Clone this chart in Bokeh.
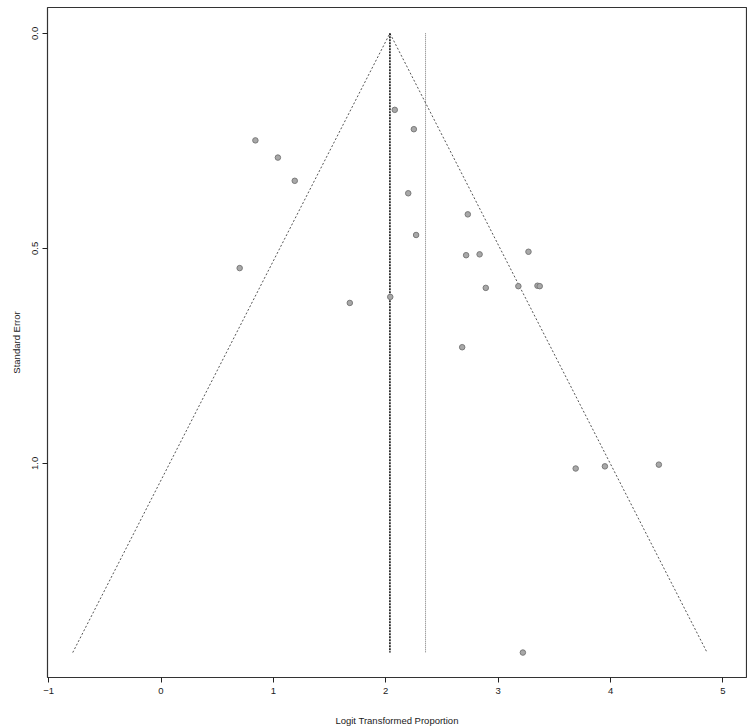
from bokeh.plotting import figure
from bokeh.models import Range1d, FixedTicker, PrintfTickFormatter, ColumnDataSource
from bokeh.embed import file_html
from bokeh.resources import INLINE

# study estimates (logit transformed proportion) and standard errors
logit_prop = [2.08, 2.25, 0.84, 1.04, 1.19, 2.20, 2.73, 2.27, 0.70, 2.715, 2.835, 3.27,
              2.89, 3.18, 3.35, 3.37, 1.68, 2.04, 2.68, 3.69, 3.95, 4.43, 3.22]
std_err = [0.178, 0.223, 0.249, 0.289, 0.343, 0.372, 0.421, 0.469, 0.546, 0.516, 0.514, 0.508,
           0.592, 0.588, 0.587, 0.588, 0.627, 0.613, 0.730, 1.012, 1.007, 1.003, 1.44]

fixed_est = 2.037     # pooled (fixed effect) estimate, funnel centre
random_est = 2.354    # second pooled estimate
se_max = 1.44
z = 1.96

x_ticks = [-1, 0, 1, 2, 3, 4, 5]
y_ticks = [0.0, 0.5, 1.0]

p = figure(frame_width=699, frame_height=670, output_backend="svg", toolbar_location=None,
           x_range=Range1d(-1.01, 5.21), y_range=Range1d(1.498, -0.06),
           min_border_left=47, min_border_top=7, min_border_right=1, min_border_bottom=44)
p.grid.visible = False
p.background_fill_color = "white"
p.border_fill_color = "white"
p.outline_line_color = "#333333"
p.outline_line_width = 1.2

# funnel
p.line([fixed_est - z * se_max, fixed_est, fixed_est + z * se_max], [se_max, 0, se_max],
       line_color="#555555", line_width=1, line_dash="2 2")
# pooled estimates
p.line([fixed_est, fixed_est], [0, se_max], line_color="black", line_width=1.5, line_dash="2 1")
p.line([random_est, random_est], [0, se_max], line_color="#777777", line_width=1, line_dash="1 1")

src = ColumnDataSource(dict(x=logit_prop, y=std_err))
p.scatter("x", "y", source=src, size=5.5, fill_color="#a8a8a8", line_color="#7a7a7a", line_width=1)

for ax in (p.xaxis[0], p.yaxis[0]):
    ax.axis_line_color = None
    ax.major_tick_line_color = "#222222"
    ax.major_tick_out = 5
    ax.major_tick_in = 0
    ax.minor_tick_line_color = None
    ax.major_label_text_font = "Liberation Sans"
    ax.major_label_text_font_size = "9.5px"
    ax.major_label_text_color = "#1a1a1a"
    ax.axis_label_text_font = "Liberation Sans"
    ax.axis_label_text_font_size = "9.5px"
    ax.axis_label_text_font_style = "normal"
    ax.axis_label_text_color = "#1a1a1a"

p.xaxis.ticker = FixedTicker(ticks=x_ticks)
p.yaxis.ticker = FixedTicker(ticks=y_ticks)
p.yaxis.formatter = PrintfTickFormatter(format="%.1f")
p.yaxis.major_label_orientation = "vertical"
p.xaxis.axis_label = "Logit Transformed Proportion"
p.yaxis.axis_label = "Standard Error"
p.xaxis.major_label_standoff = 5
p.xaxis.axis_label_standoff = 18
p.yaxis.major_label_standoff = 4
p.yaxis.axis_label_standoff = 8

open("out.html", "w").write(file_html(p, INLINE))
